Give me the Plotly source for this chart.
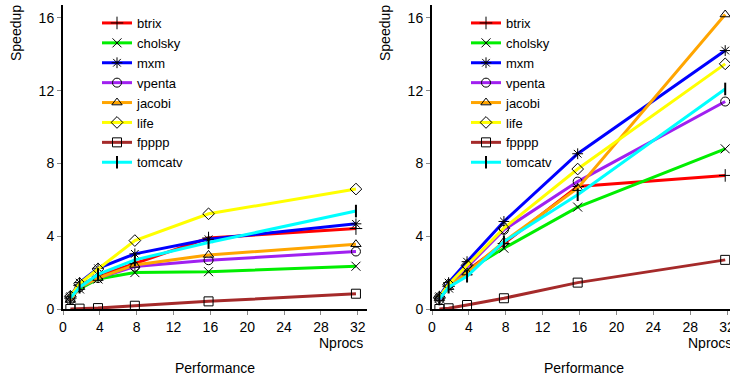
import plotly.graph_objects as go

W, H = 730, 379

nprocs = [0.8, 1.8, 3.8, 7.8, 15.8, 31.8]
names = ["btrix", "cholsky", "mxm", "vpenta", "jacobi", "life", "fpppp", "tomcatv"]
colors = ["#ff0000", "#00ee00", "#0000ff", "#a020f0", "#ffa500", "#ffff00", "#a52a2a", "#00ffff"]
symbols = ["cross-thin-open", "x-thin-open", "asterisk-open", "circle-open",
           "triangle-up-open", "diamond-open", "square-open", "line-ns-open"]

# left panel speedups
left = {
    "btrix":   [0.6, 1.3, 1.8, 2.5, 3.9, 4.42],
    "cholsky": [0.6, 1.1, 1.65, 2.0, 2.05, 2.35],
    "mxm":     [0.7, 1.45, 2.24, 3.03, 3.83, 4.68],
    "vpenta":  [0.5, 1.2, 1.7, 2.33, 2.68, 3.16],
    "jacobi":  [0.5, 1.2, 1.7, 2.42, 2.97, 3.56],
    "life":    [0.7, 1.4, 2.2, 3.76, 5.23, 6.59],
    "fpppp":   [0.0, 0.02, 0.05, 0.18, 0.42, 0.84],
    "tomcatv": [0.6, 1.2, 1.9, 2.7, 3.65, 5.38],
}
# right panel speedups
right = {
    "btrix":   [0.6, 1.25, 2.1, 3.6, 6.73, 7.34],
    "cholsky": [0.6, 1.15, 2.1, 3.34, 5.6, 8.8],
    "mxm":     [0.7, 1.45, 2.6, 4.81, 8.53, 14.2],
    "vpenta":  [0.5, 1.3, 2.3, 4.35, 7.0, 11.4],
    "jacobi":  [0.6, 1.2, 2.0, 3.7, 6.64, 16.18],
    "life":    [0.65, 1.35, 2.4, 4.44, 7.69, 13.47],
    "fpppp":   [0.0, 0.04, 0.22, 0.59, 1.45, 2.7],
    "tomcatv": [0.55, 1.2, 1.8, 3.7, 6.28, 12.09],
}

def px(x):
    return x / W

def py(y):
    return 1 - y / H

fig = go.Figure()
for panel, data, xa, ya, leg in [(1, left, "x", "y", "legend"), (2, right, "x2", "y2", "legend2")]:
    for n, c, s in zip(names, colors, symbols):
        fig.add_trace(go.Scatter(
            x=nprocs, y=data[n], name=n, mode="lines+markers",
            xaxis=xa, yaxis=ya, legend=leg,
            line=dict(color=c, width=3),
            marker=dict(symbol=s, size=9, color="black",
                        line=dict(width=2 if s == "line-ns-open" else 1, color="black")),
        ))

font = dict(family="Liberation Sans, Arial, sans-serif", size=14, color="black")
legfont = dict(family="Liberation Sans, Arial, sans-serif", size=13, color="black")
axis_common = dict(showline=True, linecolor="black", linewidth=2, showgrid=False,
                   zeroline=False, ticks="outside", ticklen=4, tickcolor="#888888",
                   tickwidth=1, tickfont=font, automargin=False, ticklabeloverflow="allow")

yrange = [0, (309 - 5) / 18.2]
fig.update_layout(
    width=W, height=H, margin=dict(l=0, r=0, t=0, b=0, autoexpand=False),
    paper_bgcolor="white", plot_bgcolor="white", font=font,
    xaxis=dict(domain=[px(63), px(367)], range=[0, 33.0], tickvals=[0, 4, 8, 12, 16, 20, 24, 28, 32],
               anchor="y", **axis_common),
    yaxis=dict(domain=[py(309), py(5)], range=yrange, tickvals=[0, 4, 8, 12, 16],
               anchor="x", **axis_common),
    xaxis2=dict(domain=[px(432), 1.0], range=[0, 32.32], tickvals=[0, 4, 8, 12, 16, 20, 24, 28, 32],
                anchor="y2", **axis_common),
    yaxis2=dict(domain=[py(309), py(5)], range=yrange, tickvals=[0, 4, 8, 12, 16],
                anchor="x2", **axis_common),
    legend=dict(x=px(97), y=py(8), xanchor="left", yanchor="top", bgcolor="rgba(0,0,0,0)",
                font=legfont, tracegroupgap=0, itemwidth=30),
    legend2=dict(x=px(466), y=py(8), xanchor="left", yanchor="top", bgcolor="rgba(0,0,0,0)",
                 font=legfont, tracegroupgap=0, itemwidth=30),
)

ann = []
for off in [0, 369]:
    ann.append(dict(text="Speedup", x=px(16 + off), y=py(33), xref="paper", yref="paper",
                    showarrow=False, textangle=-90, font=font, xanchor="center", yanchor="middle"))
    ann.append(dict(text="Performance", x=px(215 + off), y=py(368), xref="paper", yref="paper",
                    showarrow=False, font=font, xanchor="center", yanchor="middle"))
ann.append(dict(text="Nprocs", x=px(365), y=py(343), xref="paper", yref="paper",
                showarrow=False, font=font, xanchor="right", yanchor="middle"))
ann.append(dict(text="Nprocs", x=px(734), y=py(343), xref="paper", yref="paper",
                showarrow=False, font=font, xanchor="right", yanchor="middle"))
fig.update_layout(annotations=ann)

fig.write_html("out.html", config={"displayModeBar": False},
               post_script="document.body.style.margin='0';")
